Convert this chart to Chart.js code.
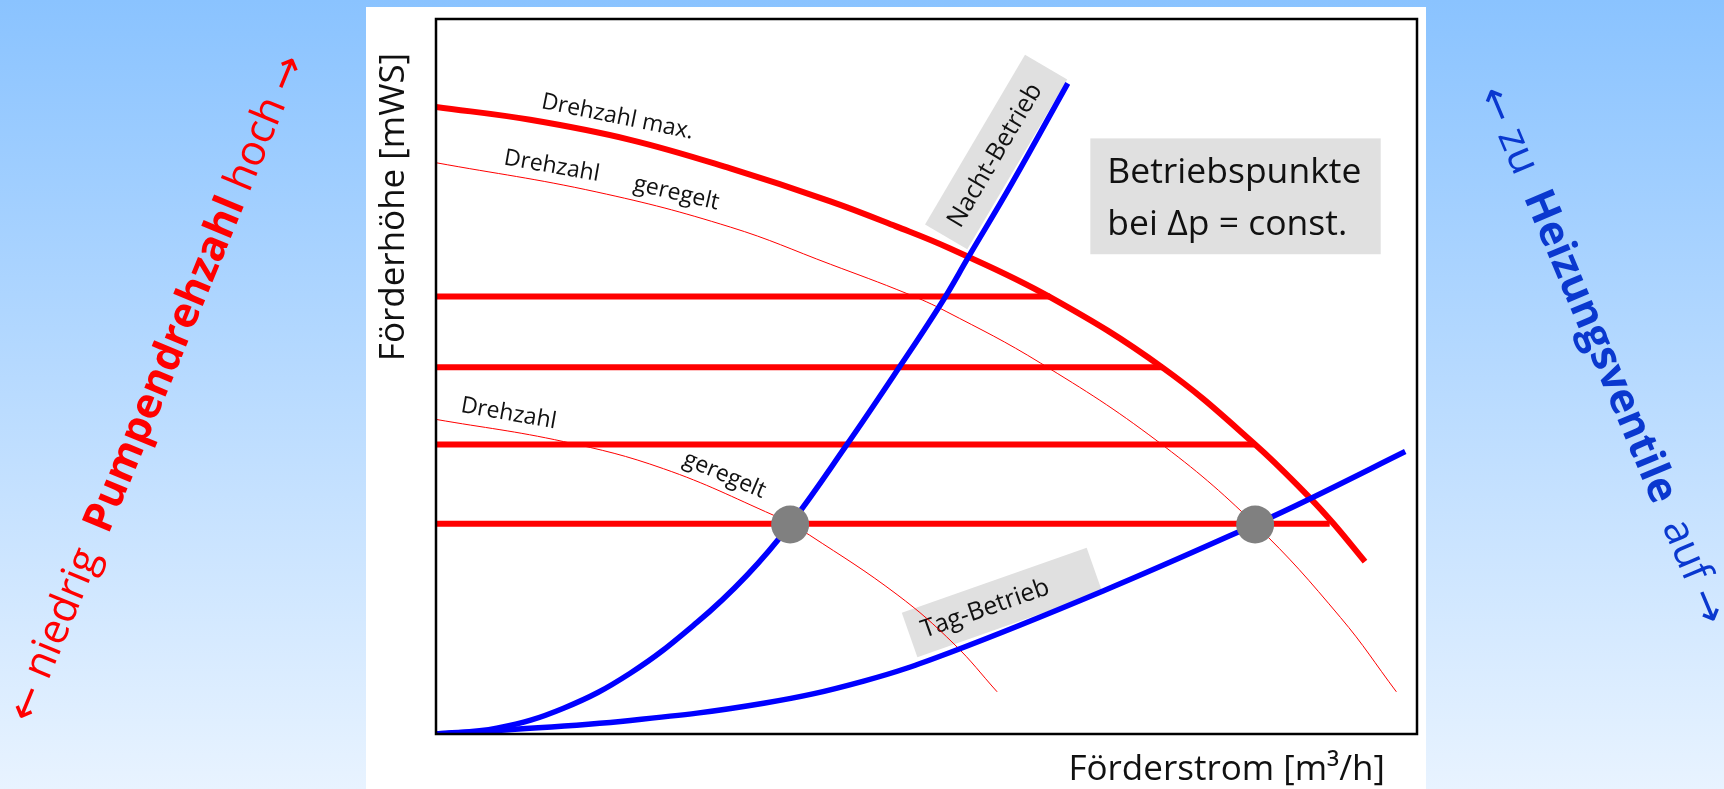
<!DOCTYPE html>
<html>
<head>
<meta charset="utf-8">
<script src="https://cdn.jsdelivr.net/npm/chart.js@4.4.0/dist/chart.umd.min.js"></script>
<style>
  html, body { margin: 0; padding: 0; }
  body { width: 1724px; height: 789px; overflow: hidden; }
</style>
</head>
<body>
<canvas id="chart" width="1724" height="789"></canvas>
<script>
// Kennlinien, schematisch: x = Förderstrom (0..100), y = Förderhöhe (0..100)
const maxX = [0, 9.6, 19.8, 30.0, 40.2, 46.9, 52.4, 62.6, 74.1, 83.5, 89.1, 91.5, 94.7];
const maxY = [87.7, 85.9, 83.1, 79.1, 74.5, 71.0, 67.9, 61.1, 51.2, 40.5, 33.0, 29.4, 24.1];

const regOberX = [0, 16.4, 30.0, 40.2, 48.0, 52.0, 61.6, 73.5, 83.5, 92.2, 97.9];
const regOberY = [79.9, 75.8, 70.9, 65.7, 61.6, 59.1, 51.9, 41.0, 29.3, 16.3, 5.9];

const regUnterX = [0, 13.0, 23.2, 34.4, 36.1, 38.1, 47.0, 52.8, 57.2];
const regUnterY = [44.0, 40.9, 37.1, 30.6, 29.3, 27.8, 19.5, 12.6, 5.9];

const nachtX = [0, 6.2, 13.0, 19.8, 26.6, 31.7, 36.1, 41.9, 46.6, 51.4, 54.4, 58.7, 64.4];
const nachtY = [0, 0.8, 3.6, 8.5, 15.6, 22.2, 29.3, 40.5, 50.0, 60.0, 67.0, 77.0, 91.0];

const tagX = [0, 6.2, 19.8, 33.4, 43.6, 52.4, 68.0, 83.5, 89.1, 98.8];
const tagY = [0, 0.5, 1.9, 4.3, 7.4, 11.4, 20.0, 29.3, 32.9, 39.5];

// Delta-p = const. Linien
const levels = [61.2, 51.3, 40.5, 29.4];
const levelEnds = [62.6, 74.1, 83.4, 91.1];

// Betriebspunkte
const dotX = [36.1, 83.5];
const dotY = [29.3, 29.3];

const pts = (xs, ys) => xs.map((x, i) => ({ x: x, y: ys[i] }));

const RED = '#ff0000';
const BLUE = '#0000ff';

const datasets = [
    { data: pts(dotX, dotY), showLine: false, pointRadius: 19, pointHoverRadius: 19,
      backgroundColor: '#808080', borderWidth: 0, order: 0 },
    { data: pts(nachtX, nachtY), borderColor: BLUE, borderWidth: 5.5, order: 1 },
    { data: pts(tagX, tagY), borderColor: BLUE, borderWidth: 5.5, order: 1 },
    { data: pts(maxX, maxY), borderColor: RED, borderWidth: 6, order: 2 },
    { data: pts(regOberX, regOberY), borderColor: RED, borderWidth: 1, order: 3 },
    { data: pts(regUnterX, regUnterY), borderColor: RED, borderWidth: 1, order: 3 }
];
levels.forEach((lvl, i) => {
    datasets.push({ data: [{ x: 0, y: lvl }, { x: levelEnds[i], y: lvl }],
        borderColor: RED, borderWidth: 6, order: 2, tension: 0 });
});
datasets.forEach(ds => {
    if (ds.showLine === undefined) {
        ds.showLine = true;
        ds.pointRadius = 0;
        ds.fill = false;
        if (ds.tension === undefined) ds.tension = 0.4;
    }
});

// Beschriftungen an den Kurven
const curveNotes = [
    { text: 'Drehzahl max.', x: 18.5, y: 86.3, rot: 11.5 },
    { text: 'Drehzahl', x: 11.8, y: 79.4, rot: 10 },
    { text: 'geregelt', x: 24.5, y: 75.6, rot: 13 },
    { text: 'Drehzahl', x: 7.4, y: 44.8, rot: 10 },
    { text: 'geregelt', x: 29.4, y: 36.2, rot: 23 }
];
const tagNotes = [
    { text: 'Nacht-Betrieb', bx: 57.1, by: 81.4, w: 197, h: 49, rot: -59.5, tx: 57.0, ty: 80.9 },
    { text: 'Tag-Betrieb', bx: 57.7, by: 18.4, w: 196, h: 47, rot: -19.4, tx: 56.0, ty: 17.5 }
];

const FONT = '"Open Sans", "Noto Sans", sans-serif';

function mixedText(ctx, cx, cy, ang, parts) {
    ctx.save();
    ctx.translate(cx, cy);
    ctx.rotate(ang * Math.PI / 180);
    ctx.textBaseline = 'middle';
    ctx.textAlign = 'left';
    let total = 0;
    parts.forEach(p => { ctx.font = p.font; p.w = ctx.measureText(p.t).width; total += p.w; });
    let x = -total / 2;
    parts.forEach(p => {
        ctx.font = p.font;
        ctx.fillStyle = p.color;
        ctx.fillText(p.t, x, p.dy || 0);
        x += p.w;
    });
    ctx.restore();
}

const backdrop = {
    id: 'backdrop',
    beforeDraw(chart) {
        const ctx = chart.ctx;
        const g = ctx.createLinearGradient(0, 0, 0, chart.height);
        g.addColorStop(0, '#8ac3ff');
        g.addColorStop(1, '#e8f3ff');
        ctx.save();
        ctx.fillStyle = g;
        ctx.fillRect(0, 0, chart.width, chart.height);
        ctx.fillStyle = '#ffffff';
        ctx.fillRect(366, 7, 1060, chart.height - 7);

        const big = '42px ' + FONT;
        const bigBold = 'bold 42px ' + FONT;
        const arrow = '42px "DejaVu Sans"';
        mixedText(ctx, 156, 388, -67.6, [
            { t: '\u2190', font: arrow, color: RED, dy: 3 },
            { t: ' niedrig  ', font: big, color: RED },
            { t: 'Pumpendrehzahl', font: bigBold, color: RED },
            { t: ' hoch ', font: big, color: RED },
            { t: '\u2192', font: arrow, color: RED, dy: 3 }
        ]);
        const vb = '#0a38cf';
        mixedText(ctx, 1603, 355, 67.2, [
            { t: '\u2190', font: arrow, color: vb, dy: 3 },
            { t: ' zu  ', font: big, color: vb },
            { t: 'Heizungsventile', font: bigBold, color: vb },
            { t: '  auf ', font: big, color: vb },
            { t: '\u2192', font: arrow, color: vb, dy: 3 }
        ]);
        ctx.restore();
    },
    beforeDatasetsDraw(chart) {
        const ctx = chart.ctx;
        const xs = chart.scales.x, ys = chart.scales.y;
        ctx.save();
        ctx.fillStyle = '#111111';
        ctx.textAlign = 'center';
        ctx.textBaseline = 'middle';

        tagNotes.forEach(n => {
            ctx.save();
            ctx.translate(xs.getPixelForValue(n.bx), ys.getPixelForValue(n.by));
            ctx.rotate(n.rot * Math.PI / 180);
            ctx.fillStyle = '#e0e0e0';
            ctx.fillRect(-n.w / 2, -n.h / 2, n.w, n.h);
            ctx.restore();
            ctx.save();
            ctx.translate(xs.getPixelForValue(n.tx), ys.getPixelForValue(n.ty));
            ctx.rotate(n.rot * Math.PI / 180);
            ctx.font = '25px ' + FONT;
            ctx.fillStyle = '#111111';
            ctx.fillText(n.text, 0, 0);
            ctx.restore();
        });

        curveNotes.forEach(n => {
            ctx.save();
            ctx.translate(xs.getPixelForValue(n.x), ys.getPixelForValue(n.y));
            ctx.rotate(n.rot * Math.PI / 180);
            ctx.font = '23px ' + FONT;
            ctx.fillText(n.text, 0, 0);
            ctx.restore();
        });

        // Infobox
        const bx0 = xs.getPixelForValue(66.7), bx1 = xs.getPixelForValue(96.3);
        const by0 = ys.getPixelForValue(83.3), by1 = ys.getPixelForValue(67.1);
        ctx.fillStyle = '#e0e0e0';
        ctx.fillRect(bx0, by0, bx1 - bx0, by1 - by0);
        ctx.fillStyle = '#111111';
        ctx.textAlign = 'left';
        ctx.textBaseline = 'alphabetic';
        ctx.font = '35.5px ' + FONT;
        ctx.fillText('Betriebspunkte', bx0 + 17, by0 + 45);
        ctx.fillText('bei \u0394p = const.', bx0 + 17, by0 + 97);
        ctx.restore();
    },
    afterDatasetsDraw(chart) {
        const ctx = chart.ctx;
        const a = chart.chartArea;
        ctx.save();
        ctx.strokeStyle = '#000000';
        ctx.lineWidth = 2.5;
        ctx.strokeRect(a.left, a.top, a.right - a.left, a.bottom - a.top);

        ctx.fillStyle = '#111111';
        ctx.font = '35px ' + FONT;
        ctx.textBaseline = 'alphabetic';
        ctx.textAlign = 'right';
        ctx.fillText('Förderstrom [m\u00b3/h]', a.right - 32, a.bottom + 46);

        ctx.translate(a.left - 32, a.top + 188);
        ctx.rotate(-Math.PI / 2);
        ctx.textAlign = 'center';
        ctx.fillText('Förderhöhe [mWS]', 0, 0);
        ctx.restore();
    }
};

new Chart(document.getElementById('chart'), {
    type: 'scatter',
    data: { datasets: datasets },
    options: {
        responsive: false,
        animation: false,
        layout: { padding: { left: 436, top: 13, right: 307, bottom: 55 } },
        plugins: { legend: { display: false }, tooltip: { enabled: false } },
        scales: {
            x: { type: 'linear', min: 0, max: 100, display: false },
            y: { type: 'linear', min: 0, max: 100, display: false }
        }
    },
    plugins: [backdrop]
});
</script>
</body>
</html>
